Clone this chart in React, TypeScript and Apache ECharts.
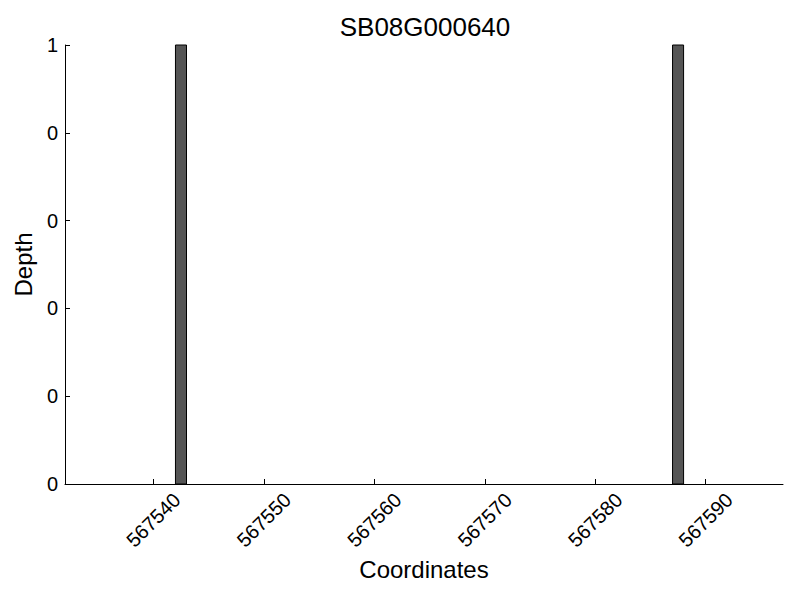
import React, { useEffect, useRef } from "react";
import * as echarts from "echarts";

const title = "SB08G000640";
const positions = [567542, 567587];
const depths = [1, 1];
const xTicks = [567540, 567550, 567560, 567570, 567580, 567590];
const yTicks = [0, 0.2, 0.4, 0.6, 0.8, 1];
const xName = "Coordinates";
const yName = "Depth";

export default function App() {
  const ref = useRef<HTMLDivElement>(null);
  useEffect(() => {
    if (!ref.current) return;
    const chart = echarts.init(ref.current, null, { renderer: "svg" });
    const font = "Liberation Sans, Arial, sans-serif";
    chart.setOption({
      animation: false,
      backgroundColor: "#ffffff",
      textStyle: { fontFamily: font },
      title: {
        text: title,
        left: 420,
        top: 9,
        textAlign: "center",
        textStyle: { fontFamily: font, fontSize: 26, fontWeight: "normal", color: "#000" },
      },
      grid: { left: 65, top: 45, right: 17, bottom: 116, containLabel: false },
      xAxis: {
        type: "value",
        min: 567532,
        max: 567597,
        name: xName,
        nameLocation: "middle",
        nameGap: 67,
        nameTextStyle: { fontFamily: font, fontSize: 24, color: "#000" },
        axisLine: { show: true, onZero: false, lineStyle: { color: "#000", width: 1 } },
        axisTick: { show: true, inside: true, length: 5, customValues: xTicks, lineStyle: { color: "#000" } },
        axisLabel: {
          customValues: xTicks,
          rotate: 45,
          align: "center",
          verticalAlign: "middle",
          margin: 36,
          fontFamily: font,
          fontSize: 20,
          color: "#000",
          formatter: (v: number) => String(v),
        },
        splitLine: { show: false },
      },
      yAxis: {
        type: "value",
        min: 0,
        max: 1,
        name: yName,
        nameLocation: "middle",
        nameGap: 29,
        nameTextStyle: { fontFamily: font, fontSize: 24, color: "#000" },
        axisLine: { show: true, lineStyle: { color: "#000", width: 1 } },
        axisTick: { show: true, inside: true, length: 5, customValues: yTicks, lineStyle: { color: "#000" } },
        axisLabel: {
          customValues: yTicks,
          margin: 7,
          fontFamily: font,
          fontSize: 20,
          color: "#000",
          formatter: (v: number) => String(Math.floor(v + 1e-9)),
        },
        splitLine: { show: false },
      },
      series: [
        {
          type: "custom",
          data: positions.map((p, i) => [p, depths[i]]),
          encode: { x: 0, y: 1 },
          renderItem: (params: any, api: any) => {
            const x = api.value(0);
            const y = api.value(1);
            const p0 = api.coord([x, y]);
            const p1 = api.coord([x + 1, 0]);
            return {
              type: "rect",
              shape: { x: p0[0], y: p0[1], width: p1[0] - p0[0], height: p1[1] - p0[1] },
              style: { fill: "#555555", stroke: "#000000", lineWidth: 1 },
            };
          },
        },
      ],
    });
    return () => chart.dispose();
  }, []);
  return <div ref={ref} style={{ position: "absolute", left: 0, top: 0, width: 800, height: 600 }} />;
}
